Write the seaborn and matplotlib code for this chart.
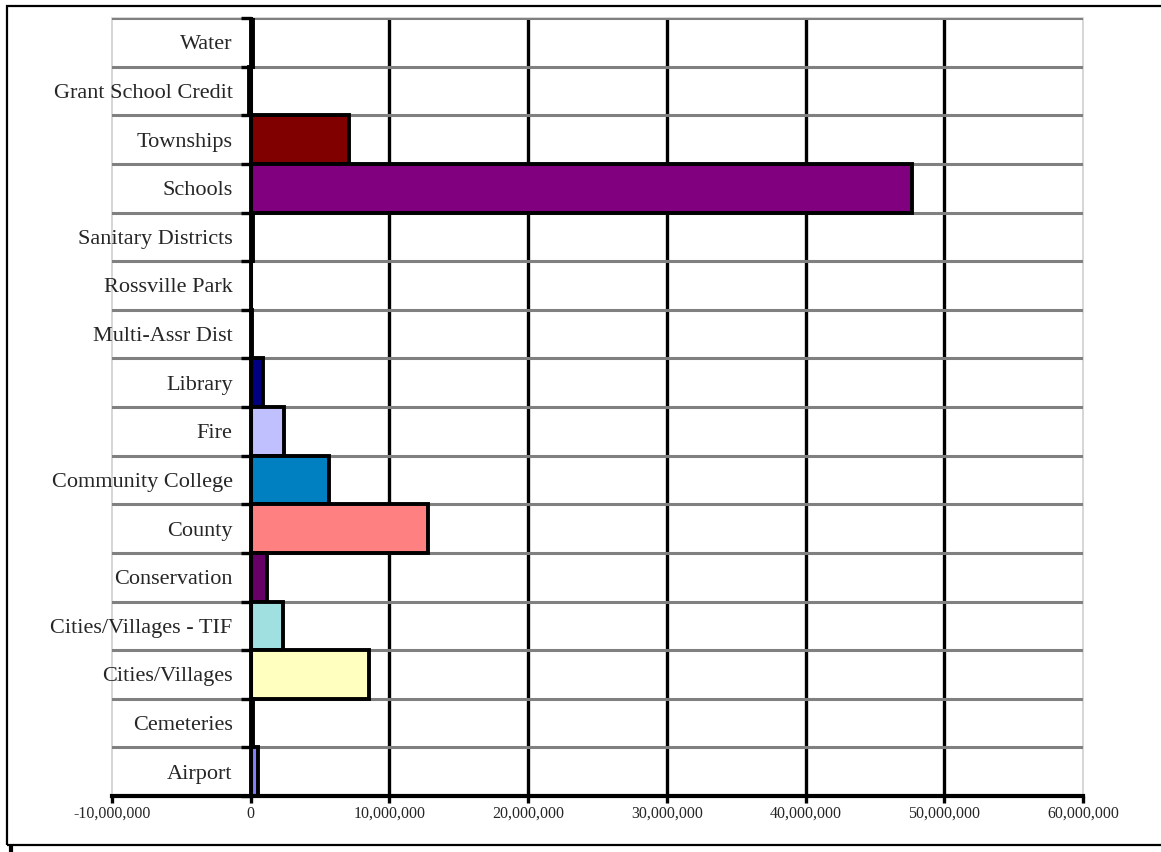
import numpy as np
import pandas as pd
import matplotlib.pyplot as plt
import seaborn as sns
from matplotlib.patches import Rectangle
from matplotlib.lines import Line2D
from matplotlib.ticker import FuncFormatter, FixedLocator, MultipleLocator

# categories listed from top to bottom as in the chart
categories = ["Water", "Grant School Credit", "Townships", "Schools",
              "Sanitary Districts", "Rossville Park", "Multi-Assr Dist",
              "Library", "Fire", "Community College", "County",
              "Conservation", "Cities/Villages - TIF", "Cities/Villages",
              "Cemeteries", "Airport"]
amounts = [150000, -150000, 7100000, 47700000,
           150000, 30000, 80000,
           850000, 2400000, 5650000, 12800000,
           1200000, 2300000, 8500000,
           150000, 550000]
colors = ["#0000FF", "#008080", "#800000", "#800080",
          "#00FFFF", "#FFFF00", "#FF00FF",
          "#000080", "#C0C0FF", "#0080C0", "#FF8080",
          "#660066", "#A0E0E0", "#FFFFC0",
          "#993366", "#8080FF"]

df = pd.DataFrame({"category": categories, "amount": amounts})
palette = dict(zip(categories, colors))

sns.set_style("white")
plt.rcParams["font.family"] = ["Liberation Serif", "DejaVu Serif"]

fig = plt.figure(figsize=(11.61, 8.52), dpi=100)
ax = fig.add_axes([112 / 1161, 1 - 796 / 852, (1083 - 112) / 1161, (796 - 18) / 852])

sns.barplot(data=df, x="amount", y="category", hue="category", palette=palette,
            order=categories, hue_order=categories, orient="h", width=1.0,
            edgecolor="black", linewidth=2.8, saturation=1, legend=False, ax=ax)

ax.set_xlim(-10000000, 60000000)
ax.set_ylim(len(categories) - 0.5, -0.5)
ax.set_xlabel("")
ax.set_ylabel("")
ax.set_axisbelow(True)

ax.xaxis.set_major_locator(MultipleLocator(10000000))
ax.xaxis.set_major_formatter(FuncFormatter(lambda v, p: f"{v:,.0f}"))
ax.tick_params(axis="x", which="major", direction="out", length=5, width=2.4,
               color="black", labelsize=11.5, pad=2, bottom=True)

# y axis sits at zero, ticks between categories
ax.spines["left"].set_position(("data", 0))
ax.spines["left"].set_color("black")
ax.spines["left"].set_linewidth(2.2)
ax.spines["left"].set_zorder(4)
ax.spines["bottom"].set_color("black")
ax.spines["bottom"].set_linewidth(3)
ax.spines["top"].set_visible(False)
ax.spines["right"].set_visible(False)

bounds = np.arange(-0.5, len(categories), 1.0)
ax.yaxis.set_minor_locator(FixedLocator(bounds))
ax.tick_params(axis="y", which="major", length=0, labelsize=16, pad=13)
ax.tick_params(axis="y", which="minor", direction="out", length=7, width=2.4,
               color="black", left=True)

# horizontal grey gridlines between categories
ax.grid(which="minor", axis="y", color="#808080", linewidth=2.2)
ax.grid(which="major", axis="y", visible=False)
for t in ax.yaxis.get_minor_ticks():
    if t.get_loc() in (bounds[0], bounds[-1]):
        t.gridline.set_visible(False)

# black vertical gridlines at the inner major ticks
for v in ax.get_xticks():
    if 0 < v < 60000000:
        ax.axvline(v, color="black", linewidth=2.4, zorder=0.5)

# light plot-area border
ax.add_patch(Rectangle((0, 0), 1, 1, transform=ax.transAxes, fill=False,
                       edgecolor="#D0D0D0", linewidth=1.2, zorder=0.4, clip_on=False))

# outer chart frame
fig.add_artist(Rectangle((7 / 1161, 1 - 845 / 852), 1.2, (845 - 6) / 852,
                         transform=fig.transFigure, fill=False,
                         edgecolor="black", linewidth=1.6))
fig.add_artist(Line2D([11 / 1161, 11 / 1161], [0, 1 - 846 / 852],
                      transform=fig.transFigure, color="black", linewidth=3))

fig.savefig("out.png", dpi=100)
